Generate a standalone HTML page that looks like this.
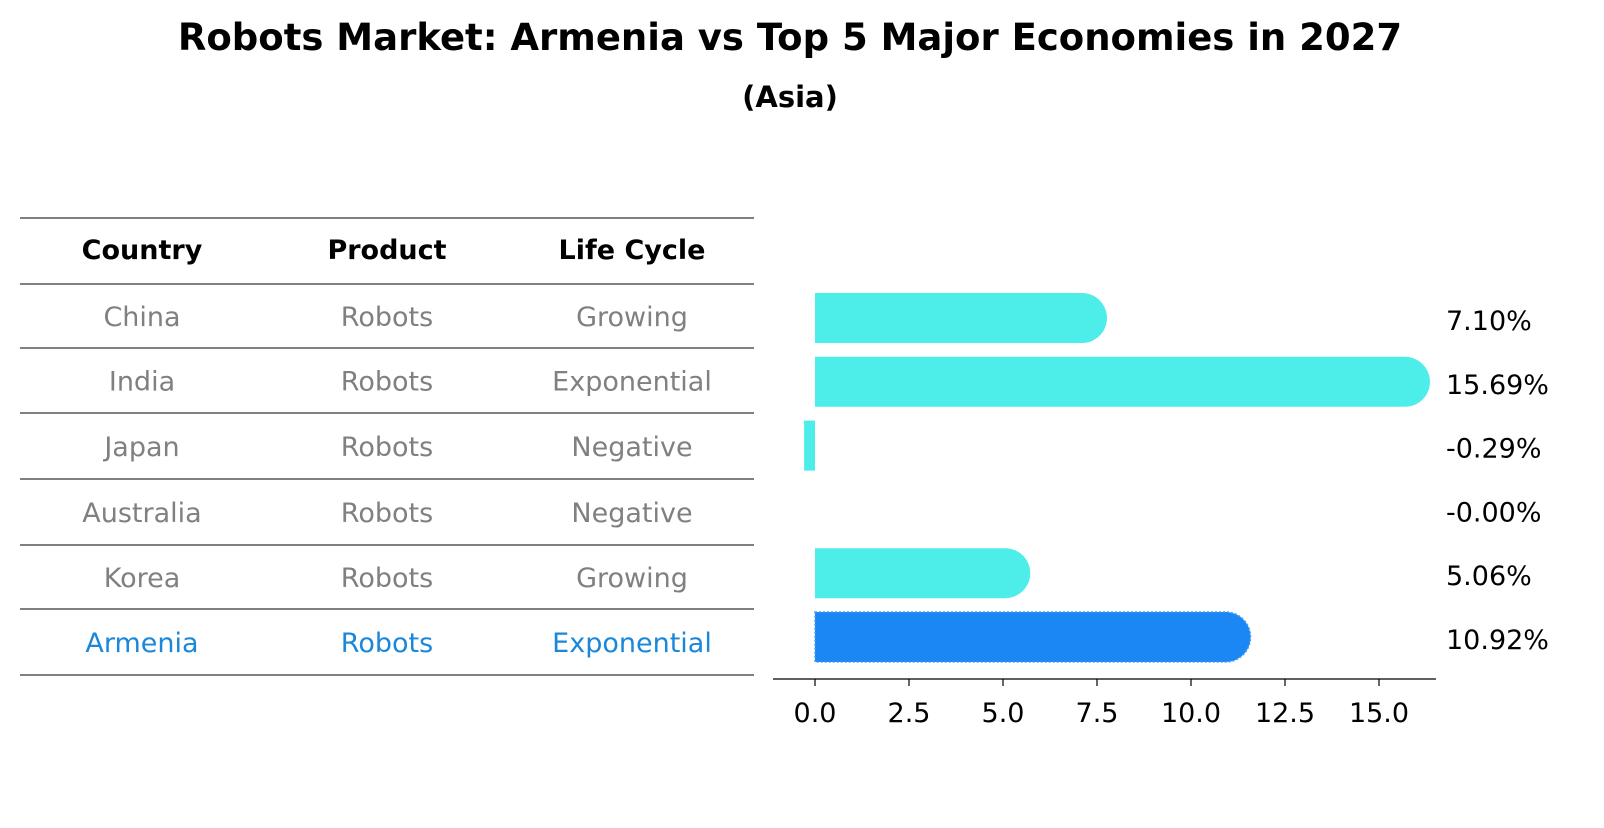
<!DOCTYPE html>
<html><head><meta charset="utf-8"><style>
body{margin:0;background:#fff;font-family:"Liberation Sans","DejaVu Sans",sans-serif}
svg text{font-family:"DejaVu Sans","Liberation Sans",sans-serif}
</style></head><body>
<svg width="1604" height="823" viewBox="0 0 1604 823" xmlns="http://www.w3.org/2000/svg">
<text x="790" y="50" text-anchor="middle" font-size="37" font-weight="bold">Robots Market: Armenia vs Top 5 Major Economies in 2027</text>
<text x="790" y="107" text-anchor="middle" font-size="29" font-weight="bold">(Asia)</text>
<g id="table"></g>
<g id="bars"></g>
</svg>
<script>
const countries=["China","India","Japan","Australia","Korea","Armenia"];
const products=["Robots","Robots","Robots","Robots","Robots","Robots"];
const lifeCycles=["Growing","Exponential","Negative","Negative","Growing","Exponential"];
const growthValues=[7.10,15.69,-0.29,-0.00,5.06,10.92];
const tickValues=[0,2.5,5,7.5,10,12.5,15];

const NS="http://www.w3.org/2000/svg";
function mk(tag,attrs,parent){const e=document.createElementNS(NS,tag);for(const k in attrs)e.setAttribute(k,attrs[k]);parent.appendChild(e);return e;}
const table=document.getElementById('table');
const bars=document.getElementById('bars');
const FS=27;
const lineYs=[218,284,348,413,479,545,609,675];
lineYs.forEach((y,i)=>{const l=mk('line',{x1:20,x2:754,y1:y,y2:y,stroke:'#000','stroke-width':1},table);

});
const colX=[142,387,632];
["Country","Product","Life Cycle"].forEach((h,i)=>{const t=mk('text',{x:colX[i],y:259,'text-anchor':'middle','font-size':FS,'font-weight':'bold'},table);t.textContent=h;

});
const rowY=i=>(lineYs[i+1]+lineYs[i+2])/2+10;
countries.forEach((c,i)=>{const col=i===countries.length-1?'#1a87d8':'#808080';
[c,products[i],lifeCycles[i]].forEach((v,j)=>{const t=mk('text',{x:colX[j],y:rowY(i),'text-anchor':'middle','font-size':FS,fill:col},table);t.textContent=v;

});});
const x0=815,scale=(1379-815)/15;
const X=v=>x0+v*scale;
const barH=50;
const barCY=i=>318+i*63.8;
const ax=mk('line',{x1:773,x2:1436,y1:679,y2:679,stroke:'#000','stroke-width':1.2},bars);


tickValues.forEach(v=>{const tk=mk('line',{x1:X(v),x2:X(v),y1:679,y2:686,stroke:'#000','stroke-width':1.2},bars);


const t=mk('text',{x:X(v),y:722,'text-anchor':'middle','font-size':FS},bars);t.textContent=v.toFixed(1);

});
growthValues.forEach((v,i)=>{const last=i===growthValues.length-1;const fill=last?'#1a87f5':'#4dede9';
const cy=barCY(i),top=cy-barH/2,r=barH/2;let p;
if(v>0.05){const xe=X(v);p=mk('path',{d:`M${x0},${top} H${xe} A${r},${r} 0 0 1 ${xe},${top+barH} H${x0} Z`,fill:fill},bars);}
else{const xa=X(Math.min(0,v)),xb=X(Math.max(0,v));p=mk('rect',{x:xa,y:top,width:Math.max(0,xb-xa),height:barH,fill:fill},bars);}
if(last){p.setAttribute('stroke','#4a9ee8');p.setAttribute('stroke-dasharray','2,2');p.setAttribute('stroke-width','1.5');}


const t=mk('text',{x:1446,y:cy+12,'font-size':FS},bars);t.textContent=(Object.is(v,-0)?'-0.00':v.toFixed(2))+'%';

});
</script>
</body></html>
